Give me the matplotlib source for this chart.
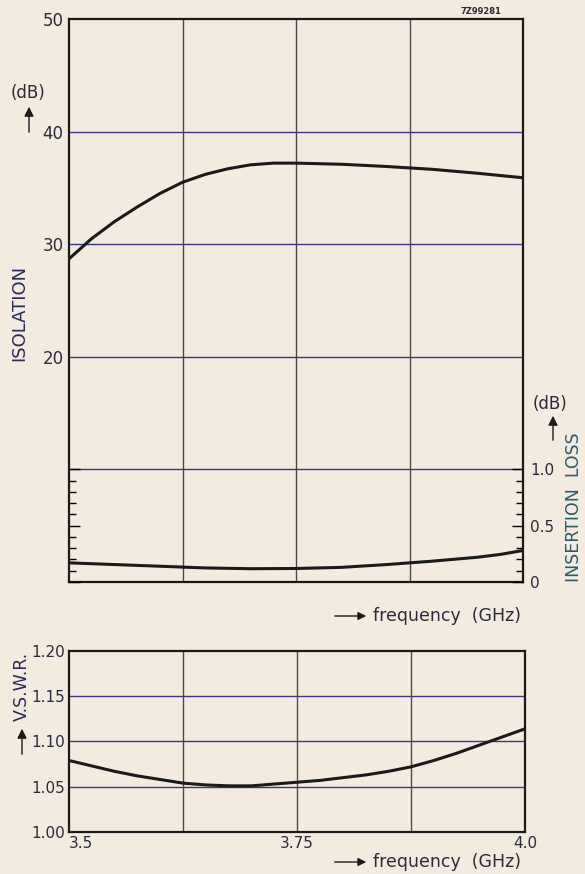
import matplotlib
matplotlib.use('Agg')
import matplotlib.pyplot as plt
import numpy as np

# isolation (dB) vs frequency (GHz)
freq_iso = [3.5, 3.525, 3.55, 3.575, 3.6, 3.625, 3.65, 3.675, 3.7, 3.725, 3.75,
            3.8, 3.85, 3.9, 3.95, 4.0]
isolation = [28.7, 30.5, 32.0, 33.3, 34.5, 35.5, 36.2, 36.7, 37.05, 37.2, 37.2,
             37.1, 36.9, 36.65, 36.3, 35.9]

# insertion loss (dB)
freq_il = [3.5, 3.55, 3.6, 3.65, 3.7, 3.75, 3.8, 3.85, 3.875, 3.9, 3.95, 3.975, 4.0]
insertion_loss = [0.17, 0.155, 0.14, 0.125, 0.118, 0.12, 0.13, 0.155, 0.17, 0.185,
                  0.22, 0.245, 0.28]

# VSWR
freq_vswr = [3.5, 3.525, 3.55, 3.575, 3.6, 3.625, 3.65, 3.675, 3.7, 3.725, 3.75,
             3.775, 3.8, 3.825, 3.85, 3.875, 3.9, 3.925, 3.95, 3.975, 4.0]
vswr = [1.079, 1.073, 1.067, 1.062, 1.058, 1.054, 1.052, 1.051, 1.051, 1.053, 1.055,
        1.057, 1.060, 1.063, 1.067, 1.072, 1.079, 1.087, 1.096, 1.105, 1.114]

iso_ticks = [20, 30, 40, 50]
il_ticks = [0, 0.5, 1.0]
il_labels = ['0', '0.5', '1.0']
vswr_ticks = [1.00, 1.05, 1.10, 1.15, 1.20]
vswr_labels = ['1.00', '1.05', '1.10', '1.15', '1.20']
f_ticks = [3.5, 3.75, 4.0]
f_labels = ['3.5', '3.75', '4.0']
f_grid = [3.625, 3.75, 3.875]

W, H = 585, 874
bg = '#f3ebdf'
ink = '#1a1a1a'
txt = '#2a2a3a'
hgrid = '#3b3585'
vgrid = '#4a4a4a'

plt.rcParams['font.family'] = ['DejaVu Sans']

fig = plt.figure(figsize=(W / 100, H / 100), dpi=100, facecolor=bg)


def px(x, y):
    # pixel position -> figure fraction
    return x / W, 1 - y / H


def arrow(x0, y0, x1, y1, size=14):
    fig.add_artist(matplotlib.patches.FancyArrowPatch(
        px(x0, y0), px(x1, y1), transform=fig.transFigure,
        arrowstyle='-|>', color=ink, lw=1.0, mutation_scale=size))


# ---- top panel: isolation + insertion loss ----
ax = fig.add_axes([69 / W, 1 - 582 / H, (523 - 69) / W, (582 - 19) / H], facecolor=bg)
ax.set_xlim(3.5, 4.0)
ax.set_ylim(0, 50)
for v in [10, 20, 30, 40]:
    ax.axhline(v, color=hgrid, lw=1.0, zorder=1)
for f in f_grid:
    ax.axvline(f, color=vgrid, lw=1.0, zorder=1)
ax.plot(freq_iso, isolation, color=ink, lw=2.2, zorder=3, solid_capstyle='round')
ax.set_yticks(iso_ticks)
ax.set_yticklabels([str(t) for t in iso_ticks], fontsize=12, color=txt)
ax.set_xticks([])
ax.tick_params(axis='y', length=0, pad=4)
for s in ax.spines.values():
    s.set_color(ink)
    s.set_linewidth(1.6)

ax2 = ax.twinx()
ax2.set_ylim(0, 5)
ax2.plot(freq_il, insertion_loss, color=ink, lw=2.2, zorder=3)
ax2.set_yticks(il_ticks)
ax2.set_yticklabels(il_labels, fontsize=11, color=txt)
ax2.set_yticks(np.arange(0.1, 1.0, 0.1), minor=True)
ax2.tick_params(axis='y', which='major', direction='in', length=8, width=1.0,
                left=True, right=True, pad=5)
ax2.tick_params(axis='y', which='minor', direction='in', length=5, width=1.0,
                left=True, right=True)
for s in ax2.spines.values():
    s.set_visible(False)

# left labels
fig.text(*px(28, 93), '(dB)', fontsize=12, ha='center', va='center', color=txt)
fig.text(*px(19, 313), 'ISOLATION', fontsize=13, rotation=90, ha='center', va='center',
         color='#2a2a5a')
arrow(29, 135, 29, 104)

# right labels
fig.text(*px(550, 404), '(dB)', fontsize=12, ha='center', va='center', color=txt)
fig.text(*px(574, 507), 'INSERTION  LOSS', fontsize=12.5, rotation=90, ha='center',
         va='center', color='#2a5a6a')
arrow(553, 443, 553, 413)

# frequency label of top panel
fig.text(*px(373, 616), 'frequency  (GHz)', fontsize=12.5, ha='left', va='center',
         color=txt)
arrow(332, 616, 369, 616, 12)

fig.text(*px(481, 12), '7Z99281', fontsize=6, ha='center', va='center',
         color=txt, fontweight='bold')

# ---- bottom panel: VSWR ----
bx = fig.add_axes([69 / W, 1 - 832 / H, (525 - 69) / W, (832 - 651) / H], facecolor=bg)
bx.set_xlim(3.5, 4.0)
bx.set_ylim(1.0, 1.2)
for v in [1.05, 1.10, 1.15]:
    bx.axhline(v, color=hgrid, lw=1.0, zorder=1)
for f in f_grid:
    bx.axvline(f, color=vgrid, lw=1.0, zorder=1)
bx.plot(freq_vswr, vswr, color=ink, lw=2.2, zorder=3)
bx.set_yticks(vswr_ticks)
bx.set_yticklabels(vswr_labels, fontsize=11, color=txt)
bx.set_xticks(f_ticks)
bx.set_xticklabels(f_labels, fontsize=11, color=txt)
bx.tick_params(length=0, pad=3)
bx.get_xticklabels()[0].set_ha('left')
for s in bx.spines.values():
    s.set_color(ink)
    s.set_linewidth(1.6)

fig.text(*px(22, 686), 'V.S.W.R.', fontsize=12.5, rotation=90, ha='center', va='center',
         color='#2a2a5a')
arrow(22, 757, 22, 726)

fig.text(*px(373, 862), 'frequency  (GHz)', fontsize=12.5, ha='left', va='center',
         color=txt)
arrow(332, 862, 369, 862, 12)

fig.savefig('out.png', dpi=100, facecolor=bg)
